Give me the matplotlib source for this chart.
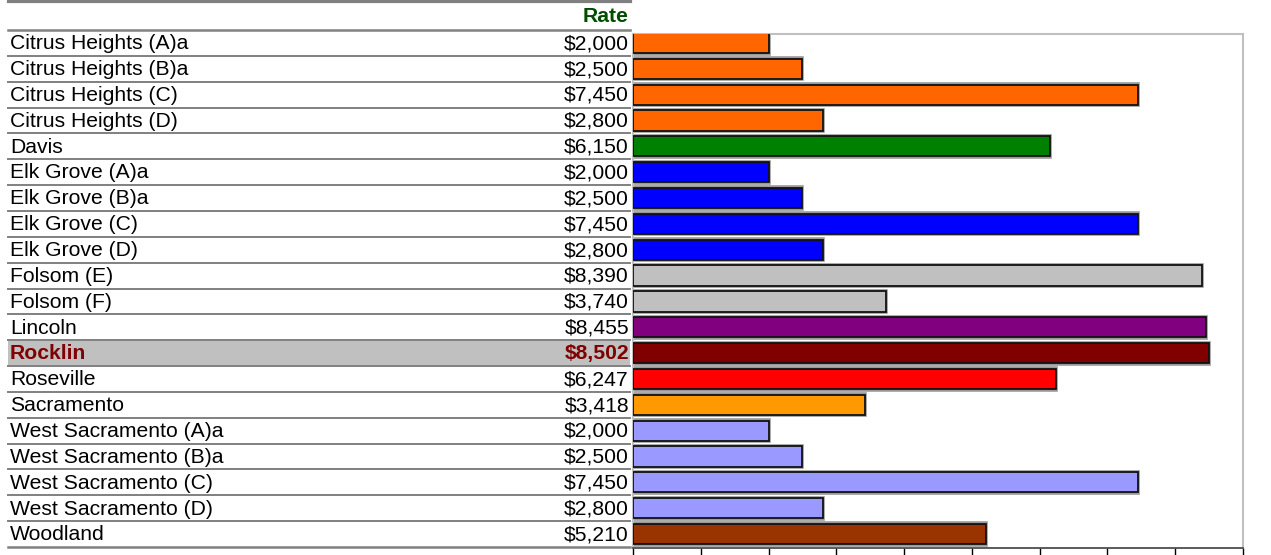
import matplotlib
matplotlib.use('Agg')
import matplotlib.pyplot as plt
from matplotlib.transforms import blended_transform_factory
from matplotlib.lines import Line2D

plt.rcParams['font.family'] = ['Liberation Sans', 'DejaVu Sans']

# данные
cities = ['Citrus Heights (A)a', 'Citrus Heights (B)a', 'Citrus Heights (C)', 'Citrus Heights (D)',
          'Davis', 'Elk Grove (A)a', 'Elk Grove (B)a', 'Elk Grove (C)', 'Elk Grove (D)',
          'Folsom (E)', 'Folsom (F)', 'Lincoln', 'Rocklin', 'Roseville', 'Sacramento',
          'West Sacramento (A)a', 'West Sacramento (B)a', 'West Sacramento (C)',
          'West Sacramento (D)', 'Woodland']
rates = [2000, 2500, 7450, 2800, 6150, 2000, 2500, 7450, 2800, 8390, 3740,
         8455, 8502, 6247, 3418, 2000, 2500, 7450, 2800, 5210]
colors = ['#ff6600'] * 4 + ['#008000'] + ['#0000ff'] * 4 + ['#c0c0c0'] * 2 + \
         ['#800080', '#800000', '#ff0000', '#ff9900'] + ['#9999ff'] * 4 + ['#993300']
highlight = 'Rocklin'

W, H = 1271, 555
fig = plt.figure(figsize=(W / 100, H / 100), dpi=100)

# область графика в пикселях
x0, x1 = 633, 1243
y_top, y_bot = 34, 548
ax = fig.add_axes([x0 / W, (H - y_bot) / H, (x1 - x0) / W, (y_bot - y_top) / H])

row_h = 25.85
row0 = 30
def pix_to_row(py):
    return (py - row0) / row_h - 0.5

ypos = list(range(len(cities)))
ax.barh(ypos, rates, height=0.82, color='none', edgecolor='#999999', linewidth=2.6, zorder=2)
ax.barh(ypos, rates, height=0.78, color=colors, edgecolor='#111111', linewidth=1.3, zorder=3)

ax.set_xlim(0, 9000)
ax.set_ylim(pix_to_row(y_bot), pix_to_row(y_top))
ax.set_xticks(range(0, 9001, 1000))
ax.set_xticklabels([])
ax.set_yticks([])
ax.tick_params(axis='x', length=7, width=1, color='black', direction='out')
for side in ['left', 'top', 'right']:
    ax.spines[side].set_color('#c0c0c0')
    ax.spines[side].set_linewidth(1.5)
ax.spines['bottom'].set_color('#404040')
ax.spines['bottom'].set_linewidth(1.2)

# таблица слева
tr = blended_transform_factory(fig.transFigure, ax.transData)
lx0, lx1 = 8 / W, 630 / W
name_x = 10 / W
val_x = 629 / W
fs = 15.2

fig.add_artist(Line2D([lx0, lx1], [pix_to_row(1.5)] * 2, transform=tr, color='#808080', lw=2.3))
fig.text(val_x, pix_to_row(17), 'Rate', transform=tr, ha='right', va='center',
         fontsize=fs, fontweight='bold', color='#004d00')

for i, (name, rate) in enumerate(zip(cities, rates)):
    if name == highlight:
        fig.patches.append(plt.Rectangle((lx0, i - 0.5), lx1 - lx0, 1.0, transform=tr,
                                         facecolor='#c0c0c0', edgecolor='none', zorder=0))
        kw = dict(fontweight='bold', color='#800000')
    else:
        kw = dict(color='black')
    fig.text(name_x, i + 0.03, name, transform=tr, ha='left', va='center', fontsize=fs, **kw)
    fig.text(val_x, i + 0.03, '${:,}'.format(rate), transform=tr, ha='right', va='center',
             fontsize=fs, **kw)

for i in range(len(cities) + 1):
    lw = 1.8 if i in (0, len(cities)) else 1.4
    fig.add_artist(Line2D([lx0, lx1], [i - 0.5] * 2, transform=tr, color='#808080', lw=lw))

fig.savefig('out.png', dpi=100)
